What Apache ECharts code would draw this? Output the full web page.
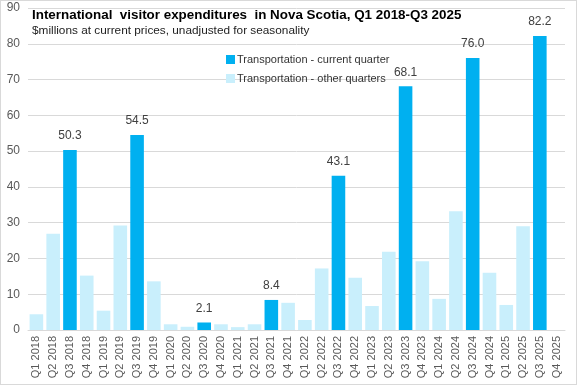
<!DOCTYPE html>
<html><head><meta charset="utf-8">
<script src="https://cdn.jsdelivr.net/npm/echarts@6/dist/echarts.min.js"></script>
<style>html,body{margin:0;padding:0;background:#fff}#c{width:577px;height:385px;box-sizing:border-box;border:1px solid #d9d9d9}</style>
</head><body><div id="c"></div>
<script>
var categories = ["Q1 2018","Q2 2018","Q3 2018","Q4 2018","Q1 2019","Q2 2019","Q3 2019","Q4 2019","Q1 2020","Q2 2020","Q3 2020","Q4 2020","Q1 2021","Q2 2021","Q3 2021","Q4 2021","Q1 2022","Q2 2022","Q3 2022","Q4 2022","Q1 2023","Q2 2023","Q3 2023","Q4 2023","Q1 2024","Q2 2024","Q3 2024","Q4 2024","Q1 2025","Q2 2025","Q3 2025","Q4 2025"];
var currentQuarter = [null,null,50.3,null,null,null,54.5,null,null,null,2.1,null,null,null,8.4,null,null,null,43.1,null,null,null,68.1,null,null,null,76.0,null,null,null,82.2,null];
var otherQuarters = [4.4,26.9,null,15.2,5.4,29.2,null,13.6,1.6,0.9,null,1.6,0.8,1.6,null,7.6,2.8,17.2,null,14.6,6.7,21.9,null,19.2,8.7,33.2,null,16.0,7.0,29.0,null,null];
var yTicks = [0,10,20,30,40,50,60,70,80,90];

var chart = echarts.init(document.getElementById('c'));
chart.setOption({
  animation:false,
  textStyle:{fontFamily:'Liberation Sans, Arial, sans-serif'},
  title:{
    text:'International  visitor expenditures  in Nova Scotia, Q1 2018-Q3 2025',
    subtext:'$millions at current prices, unadjusted for seasonality',
    left:26, top:3, itemGap:3,
    textStyle:{fontSize:13.4,fontWeight:'bold',color:'#000'},
    subtextStyle:{fontSize:11.8,color:'#222'}
  },
  legend:{
    left:220, top:48, orient:'vertical', itemGap:8, itemWidth:9, itemHeight:9,
    icon:'rect', textStyle:{fontSize:11,color:'#333',padding:[0,0,0,-3]},
    data:['Transportation - current quarter','Transportation - other quarters']
  },
  grid:{left:27,right:11,top:7,bottom:54,containLabel:false},
  xAxis:{
    type:'category', data:categories,
    axisLine:{lineStyle:{color:'#d9d9d9'}},
    axisTick:{show:false},
    axisLabel:{rotate:90,fontSize:11,color:'#595959',interval:0,margin:6}
  },
  yAxis:{
    type:'value', min:0, max:90, interval:10,
    axisLabel:{fontSize:12,color:'#595959',margin:8},
    splitLine:{lineStyle:{color:'#d9d9d9'}},
    axisLine:{show:false}
  },
  series:[
    {name:'Transportation - current quarter',type:'bar',stack:'a',data:currentQuarter,
     barCategoryGap:'19%',itemStyle:{color:'#00b0f0'},
     label:{show:true,position:'top',fontSize:12,color:'#404040',distance:8,
       formatter:function(p){return p.value==null?'':p.value.toFixed(1);}}},
    {name:'Transportation - other quarters',type:'bar',stack:'a',data:otherQuarters,
     barCategoryGap:'19%',itemStyle:{color:'#c9effc'}}
  ]
});
</script></body></html>
